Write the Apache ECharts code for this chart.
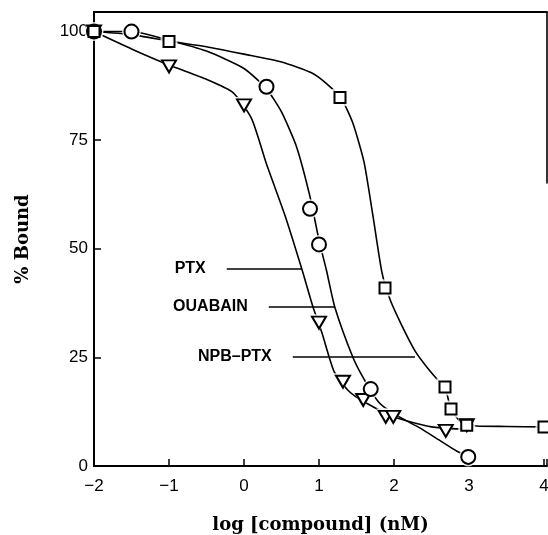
<!DOCTYPE html>
<html>
<head>
<meta charset="utf-8">
<script src="https://cdn.jsdelivr.net/npm/echarts@6/dist/echarts.min.js"></script>
<style>
  html, body { margin: 0; padding: 0; background: #fff; }
  #chart { width: 548px; height: 535px; }
</style>
</head>
<body>
<div id="chart"></div>
<script>
// measured points, [log conc, % bound]
const ptxPoints = [[-2, 100], [-1, 92], [0, 83], [1, 33], [1.32, 19.4], [1.59, 15.2], [1.89, 11.3], [1.99, 11.3], [2.69, 8.1], [2.97, 9.4]]
const ouabainPoints = [[-2, 100], [-1.5, 100], [0.3, 87.3], [0.88, 59.2], [1, 51], [1.69, 17.7], [2.99, 2.1]]
const npbPoints = [[-2, 100], [-1, 97.7], [1.28, 84.8], [1.88, 41], [2.68, 18.2], [2.76, 13.1], [2.97, 9.4], [4, 9]]

// fitted curves
const ptxCurve = [[-2, 100], [-1.5, 96], [-1, 92.3], [-0.5, 89], [-0.15, 86], [0.1, 80], [0.3, 69.5],
  [0.55, 57.5], [0.77, 45.4], [0.92, 36.6], [1.04, 30.6], [1.2, 21.8], [1.4, 17.2], [1.6, 14.8],
  [2.0, 11.3], [2.5, 9], [2.9, 8.5]]
const ouabainCurve = [[-2, 100], [-1.5, 100], [-1, 98], [-0.5, 95.5], [0, 91.5], [0.3, 86.8], [0.5, 81.5],
  [0.7, 73.5], [0.88, 62], [1.0, 52], [1.1, 45], [1.21, 36.6], [1.45, 25.1], [1.6, 20], [1.8, 14.6],
  [2.0, 12], [2.32, 9], [2.6, 6], [2.84, 3.4], [3, 2.1]]
const npbCurve = [[-2, 100], [-1.5, 99.3], [-1, 97.8], [-0.5, 96.5], [0, 94.8], [0.5, 93], [0.9, 90.5],
  [1.1, 88], [1.3, 84.5], [1.45, 79], [1.6, 70], [1.72, 57.5], [1.84, 44.5], [1.95, 38.2], [2.1, 32.5],
  [2.28, 26.5], [2.45, 22.5], [2.6, 19.5], [2.68, 18.2], [2.76, 13.1], [2.9, 10], [3.1, 9.2], [3.5, 9.1], [4, 9]]

const xTicks = [-2, -1, 0, 1, 2, 3, 4]
const yTicks = [0, 25, 50, 75, 100]

// label leaders: [name, y, x from, x to]
const leaders = [['PTX', 45.4, -0.23, 0.77], ['OUABAIN', 36.6, 0.33, 1.21], ['NPB\u2013PTX', 25.1, 0.65, 2.28]]

const chart = echarts.init(document.getElementById('chart'))

const curve = (data) => ({
  type: 'line', data, smooth: 0.2, symbol: 'none', z: 2,
  lineStyle: { color: '#000', width: 1.6 }
})
const halo = (data, symbol, size) => ({
  type: 'scatter', data, symbol, symbolSize: size, symbolRotate: symbol === 'triangle' ? 180 : 0,
  itemStyle: { color: '#fff', borderWidth: 0 }, z: 3, silent: true
})
const marks = (data, symbol, size) => ({
  type: 'scatter', data, symbol, symbolSize: size, symbolRotate: symbol === 'triangle' ? 180 : 0,
  itemStyle: { color: '#fff', borderColor: '#000', borderWidth: 2, opacity: 1 }, z: 4
})

chart.setOption({
  animation: false,
  grid: { left: 94, right: 1, top: 12, bottom: 69, outerBoundsMode: 'none', containLabel: false },
  xAxis: [{
    type: 'value', min: -2, max: 4.04, interval: 1,
    name: 'log [compound] (nM)', nameLocation: 'middle', nameGap: 50,
    nameTextStyle: { fontFamily: 'DejaVu Serif', fontWeight: 'bold', fontSize: 18, color: '#000' },
    axisLine: { show: true, onZero: false, lineStyle: { color: '#000', width: 2 } },
    axisTick: { inside: true, length: 7, lineStyle: { color: '#000', width: 1.5 } },
    axisLabel: {
      margin: 12, fontFamily: 'Liberation Sans', fontSize: 17, color: '#000',
      formatter: v => xTicks.includes(v) ? (v < 0 ? '\u2212' + Math.abs(v) : String(v)) : ''
    },
    splitLine: { show: false }
  }, {
    type: 'value', position: 'top', min: -2, max: 4.04,
    axisLine: { show: true, onZero: false, lineStyle: { color: '#000', width: 2 } },
    axisTick: { show: false }, axisLabel: { show: false }, splitLine: { show: false }
  }],
  yAxis: {
    type: 'value', min: 0, max: 104.5, interval: 25,
    name: '% Bound', nameLocation: 'middle', nameGap: 62, nameRotate: 90,
    nameTextStyle: { fontFamily: 'DejaVu Serif', fontWeight: 'bold', fontSize: 18, color: '#000' },
    axisLine: { show: true, onZero: false, lineStyle: { color: '#000', width: 2 } },
    axisTick: { inside: true, length: 7, lineStyle: { color: '#000', width: 1.5 } },
    axisLabel: {
      margin: 6, fontFamily: 'Liberation Sans', fontSize: 17, color: '#000',
      formatter: v => yTicks.includes(v) ? String(v) : ''
    },
    splitLine: { show: false }
  },
  series: [
    curve(ptxCurve), curve(ouabainCurve), curve(npbCurve),
    halo(ptxPoints, 'triangle', [19, 17]), halo(ouabainPoints, 'circle', 19), halo(npbPoints, 'rect', 17),
    marks(ptxPoints, 'triangle', [14, 12]), marks(ouabainPoints, 'circle', 14), marks(npbPoints, 'rect', 11),
    {
      type: 'line', data: [], z: 5,
      markLine: {
        silent: true, symbol: ['none', 'none'], animation: false,
        lineStyle: { color: '#000', width: 1.6, type: 'solid' },
        label: {
          show: true, position: 'start', distance: 21, formatter: '{b}',
          fontFamily: 'Liberation Sans', fontWeight: 'bold', fontSize: 16, color: '#000'
        },
        data: leaders.map(([name, y, x0, x1]) => [{ name, coord: [x0, y] }, { coord: [x1, y] }])
          .concat([[{ coord: [4.04, 104.5], label: { show: false } }, { coord: [4.04, 65] }]])
      }
    }
  ]
})
</script>
</body>
</html>
